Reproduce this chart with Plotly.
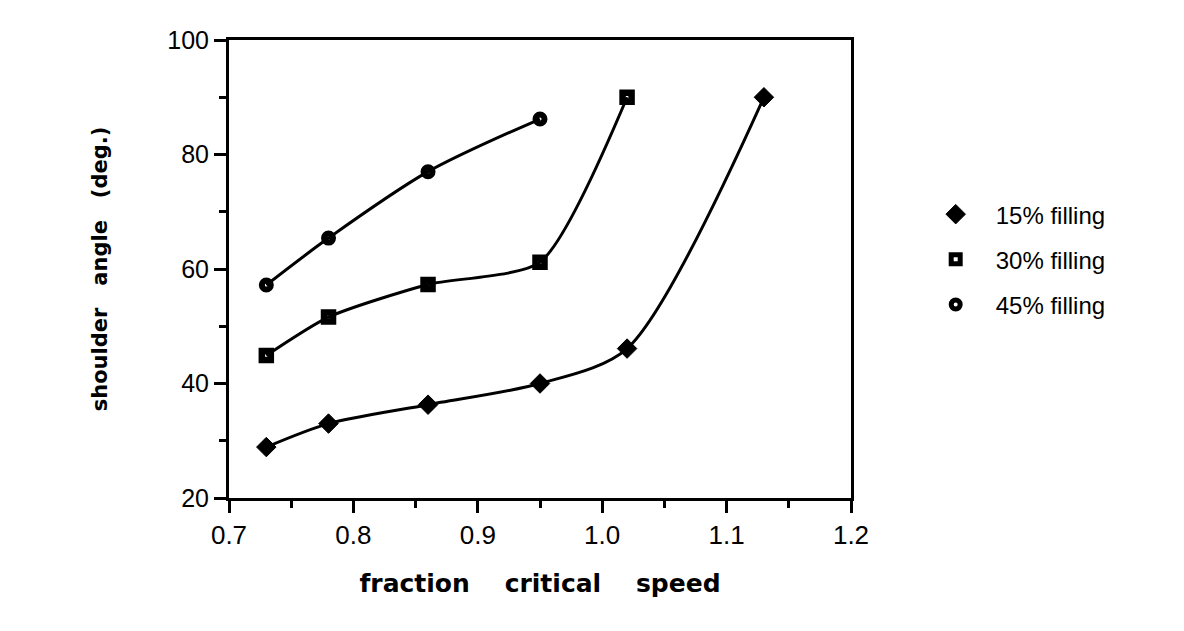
import plotly.graph_objects as go

# Data
x15 = [0.73, 0.78, 0.86, 0.95, 1.02, 1.13]
y15 = [28.9, 33.0, 36.3, 40.0, 46.1, 90.0]
x30 = [0.73, 0.78, 0.86, 0.95, 1.02]
y30 = [44.9, 51.6, 57.3, 61.2, 90.0]
x45 = [0.73, 0.78, 0.86, 0.95]
y45 = [57.2, 65.4, 77.0, 86.2]

names = ["15% filling", "30% filling", "45% filling"]
xticks = [0.7, 0.8, 0.9, 1.0, 1.1, 1.2]
xticklabels = ["0.7", "0.8", "0.9", "1.0", "1.1", "1.2"]
yticks = [20, 40, 60, 80, 100]

FONT = "Liberation Sans, Arial, sans-serif"
BOLD = "DejaVu Sans, sans-serif"

series = [(x15, y15), (x30, y30), (x45, y45)]
smooth = [0.8, 0.65, 0.85]
markers = [
    dict(symbol="diamond", size=15, color="black", line=dict(width=1, color="black")),
    dict(symbol="square-open", size=9, color="black", line=dict(width=6.5, color="black")),
    dict(symbol="circle-open", size=9, color="black", line=dict(width=6, color="black")),
]

fig = go.Figure()
for i, (xs, ys) in enumerate(series):
    fig.add_trace(go.Scatter(
        x=xs, y=ys, mode="lines", showlegend=False, hoverinfo="skip",
        line=dict(color="black", width=3, shape="spline", smoothing=smooth[i]),
    ))
for i, (xs, ys) in enumerate(series):
    fig.add_trace(go.Scatter(
        x=xs, y=ys, mode="markers", name=names[i], legendgroup=names[i],
        marker=markers[i],
    ))

axis_common = dict(
    showline=True, linecolor="black", linewidth=3, mirror=True,
    ticks="outside", ticklen=12, tickwidth=3, tickcolor="black",
    showgrid=False, zeroline=False,
)

fig.update_xaxes(
    range=[0.7, 1.2], tickvals=xticks, ticktext=xticklabels,
    tickfont=dict(family=FONT, size=26, color="black"),
    minor=dict(dtick=0.05, tick0=0.7, ticks="outside", ticklen=7, tickwidth=3, tickcolor="black"),
    title=dict(text="fraction\u00a0\u00a0\u00a0\u00a0critical\u00a0\u00a0\u00a0\u00a0speed",
               font=dict(family=BOLD, size=25, color="black", weight="bold"),
               standoff=26),
    **axis_common,
)
fig.update_yaxes(
    range=[20, 100], tickvals=yticks,
    tickfont=dict(family=FONT, size=25, color="black"),
    minor=dict(dtick=10, tick0=20, ticks="outside", ticklen=7, tickwidth=3, tickcolor="black"),
    title=dict(text="shoulder\u00a0\u00a0\u00a0angle\u00a0\u00a0\u00a0(deg.)",
               font=dict(family=BOLD, size=21, color="black", weight="bold"),
               standoff=54),
    **axis_common,
)

fig.update_layout(
    width=1184, height=631,
    margin=dict(l=229, r=333, t=40, b=133),
    plot_bgcolor="white", paper_bgcolor="white",
    showlegend=True,
    legend=dict(
        x=1.104, y=0.668, xanchor="left", yanchor="top",
        font=dict(family=FONT, size=24, color="black"),
        bgcolor="rgba(0,0,0,0)", itemwidth=70, tracegroupgap=11,
    ),
)

fig.write_html("out.html")
